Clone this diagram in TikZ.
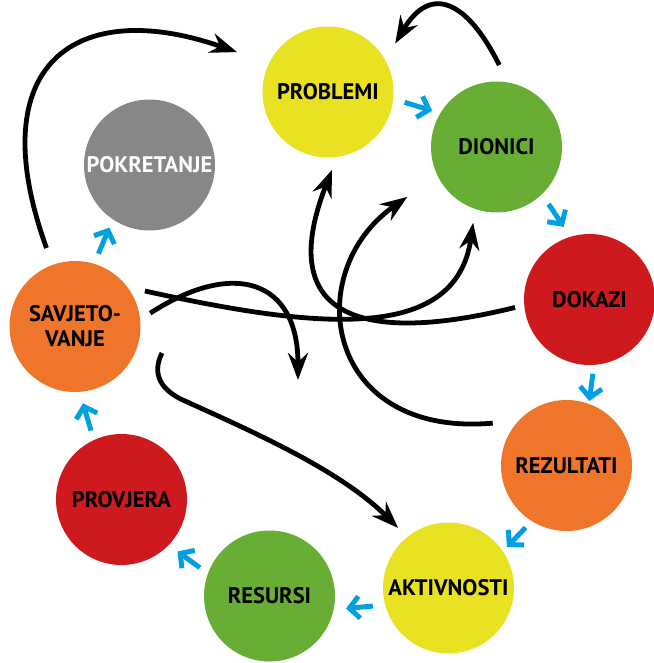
\documentclass[tikz,border=0pt]{standalone}
\usepackage{fontspec}
\setsansfont{PT Sans}
\usetikzlibrary{arrows.meta}
\definecolor{WheelYellow}{HTML}{E8E222}
\definecolor{WheelGreen}{HTML}{68AE34}
\definecolor{WheelRed}{HTML}{CE191E}
\definecolor{WheelOrange}{HTML}{EE752A}
\definecolor{WheelGray}{HTML}{878787}
\definecolor{WheelBlue}{HTML}{00A0E2}

\begin{document}
\begin{tikzpicture}[
    x=1pt, y=-1pt,
    font=\sffamily\bfseries\fontsize{22.5}{25}\selectfont,
    stage/.style={
      circle,
      minimum size=131pt,
      inner sep=0pt,
      outer sep=0pt,
      align=center,
      text=black
    },
    flow/.style={-{Straight Barb[length=10pt,width=22pt]}, line width=5pt, draw=WheelBlue},
    link/.style={-{Stealth[length=27pt,width=20pt,inset=9pt]}, line width=4.8pt}
  ]
    \useasboundingbox (0,0) rectangle (653,663);

    \node[stage, fill=WheelYellow] (problemi) at (328,92) {PROBLEMI};
    \node[stage, fill=WheelGreen] (dionici) at (496.5,147) {DIONICI};
    \node[stage, fill=WheelRed] (dokazi) at (589.5,299.5) {DOKAZI};
    \node[stage, fill=WheelOrange] (rezultati) at (566.5,465.5) {REZULTATI};
    \node[stage, fill=WheelYellow] (aktivnosti) at (448.5,588) {AKTIVNOSTI};
    \node[stage, fill=WheelGreen] (resursi) at (269.5,596) {RESURSI};
    \node[stage, fill=WheelRed] (provjera) at (121.5,499.5) {PROVJERA};
    \node[stage, fill=WheelOrange] (savjetovanje) at (75,326.5) {SAVJETO-\\VANJE};
    \node[stage, fill=WheelGray, text=white] (pokretanje) at (149.5,165) {POKRETANJE};
    \coordinate (hub) at (298,380);

    \draw[flow, shorten <=12pt, shorten >=8.5pt] (problemi.-6) -- (dionici.149);
    \draw[flow, shorten <=12pt, shorten >=12pt] (dionici.-46) -- (dokazi.107);
    \draw[flow, shorten <=9pt, shorten >=3pt] (dokazi.-86) -- (rezultati.70);
    \draw[flow, shorten <=9pt, shorten >=6pt] (rezultati.-122) -- (aktivnosti.34);
    \draw[flow, shorten <=12.5pt, shorten >=12.5pt] (aktivnosti.195) -- (resursi.-12);
    \draw[flow, shorten <=10pt, shorten >=11pt] (resursi.160) -- (provjera.-44);
    \draw[flow, shorten <=10pt, shorten >=12pt] (provjera.115) -- (savjetovanje.-86);
    \draw[flow, shorten <=11pt, shorten >=9pt] (savjetovanje.73) -- (pokretanje.236);

    \draw[link, shorten <=18pt, shorten >=34pt] (savjetovanje.110) .. controls (-20,64) and (76,-4) .. (problemi.154);
    \draw[link, shorten <=19.5pt, shorten >=19.5pt] (dionici.80) .. controls (468,2) and (431,-17) .. (problemi.29.5);
    \draw[link, shorten <=18pt, shorten >=14pt] (savjetovanje.37) .. controls (321,330) and (456,342) .. (dionici.251);
    \draw[link, shorten <=12pt] (savjetovanje.6) .. controls (234,259) and (298,280) .. (hub);
    \draw[link, shorten <=9.5pt, shorten >=14pt] (dokazi.185.5) .. controls (350,348) and (277,310) .. (problemi.278);
    \draw[link, shorten <=26pt, shorten >=37pt] (rezultati.137) .. controls (324,438) and (300,272) .. (dionici.206);
    \draw[link, shorten >=13pt] ([xshift=87pt,yshift=-26.5pt]savjetovanje.center) .. controls (151,375) and (162,391) .. (185,401) .. controls (258,434) and (341,471) .. (aktivnosti.129);
  \end{tikzpicture}
\end{document}
